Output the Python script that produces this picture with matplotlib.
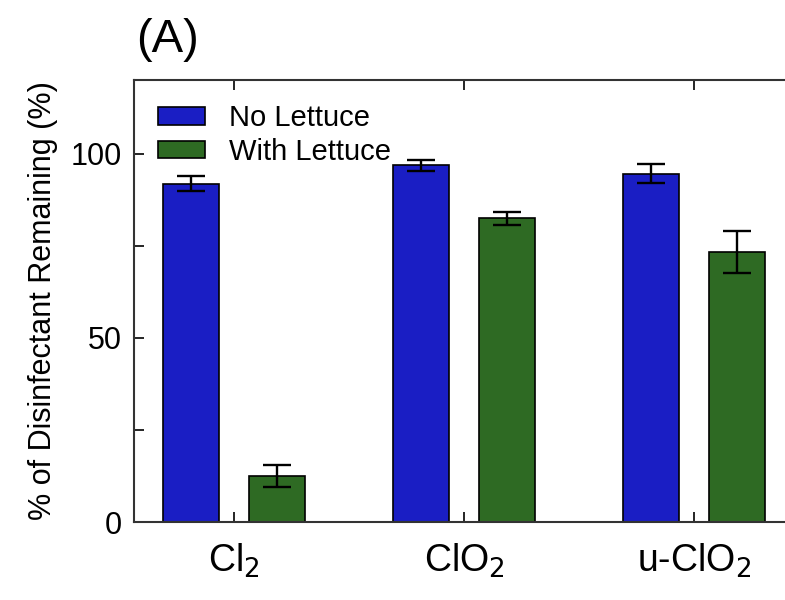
import numpy as np
import matplotlib.pyplot as plt
from matplotlib.ticker import MultipleLocator

plt.rcParams['font.family'] = ['Liberation Sans', 'DejaVu Sans']

# Datos
categorias = ['Cl$_2$', 'ClO$_2$', 'u-ClO$_2$']
sin_lechuga = [91.8, 96.8, 94.6]
sin_lechuga_err = [2.0, 1.5, 2.6]
con_lechuga = [12.4, 82.4, 73.4]
con_lechuga_err = [3.0, 1.8, 5.7]

color_azul = '#1a1ec4'
color_verde = '#2e6a23'

fig = plt.figure(figsize=(7.85, 6.0), dpi=100)
ax = fig.add_axes([0.1707, 0.13, 0.8293, 0.7367])

x = np.arange(len(categorias))
ancho = 0.245
desp = 0.188

ax.bar(x - desp, sin_lechuga, ancho, color=color_azul, edgecolor='black',
       linewidth=1.2, label='No Lettuce', zorder=2)
ax.bar(x + desp, con_lechuga, ancho, color=color_verde, edgecolor='black',
       linewidth=1.2, label='With Lettuce', zorder=2)
ax.errorbar(x - desp, sin_lechuga, yerr=sin_lechuga_err, fmt='none',
            ecolor='black', elinewidth=1.7, capsize=10, capthick=1.7, zorder=3)
ax.errorbar(x + desp, con_lechuga, yerr=con_lechuga_err, fmt='none',
            ecolor='black', elinewidth=1.7, capsize=10, capthick=1.7, zorder=3)

ax.set_xlim(-0.435, 2.396)
ax.set_ylim(0, 120)
ax.set_xticks(x)
ax.set_xticklabels(categorias, fontsize=27)
ax.yaxis.set_major_locator(MultipleLocator(50))
ax.yaxis.set_minor_locator(MultipleLocator(25))
ax.tick_params(axis='y', which='both', direction='in', labelsize=22,
               length=7, width=1.2, pad=9)
ax.tick_params(axis='x', direction='in', top=True, length=7, width=1.2, pad=14)
for s in ['left', 'top', 'bottom']:
    ax.spines[s].set_linewidth(1.5)
    ax.spines[s].set_color('#333333')
ax.spines['right'].set_visible(False)

ax.set_ylabel('% of Disinfectant Remaining (%)', fontsize=22, labelpad=9)
ax.text(0.004, 1.04, '(A)', transform=ax.transAxes, fontsize=34,
        ha='left', va='bottom')

ax.legend(loc='upper left', bbox_to_anchor=(0.01, 0.985), frameon=False,
          fontsize=21, handlelength=1.6, handleheight=0.55,
          handletextpad=0.85, labelspacing=0.2, borderaxespad=0.2)

fig.savefig('out.png', dpi=100)
